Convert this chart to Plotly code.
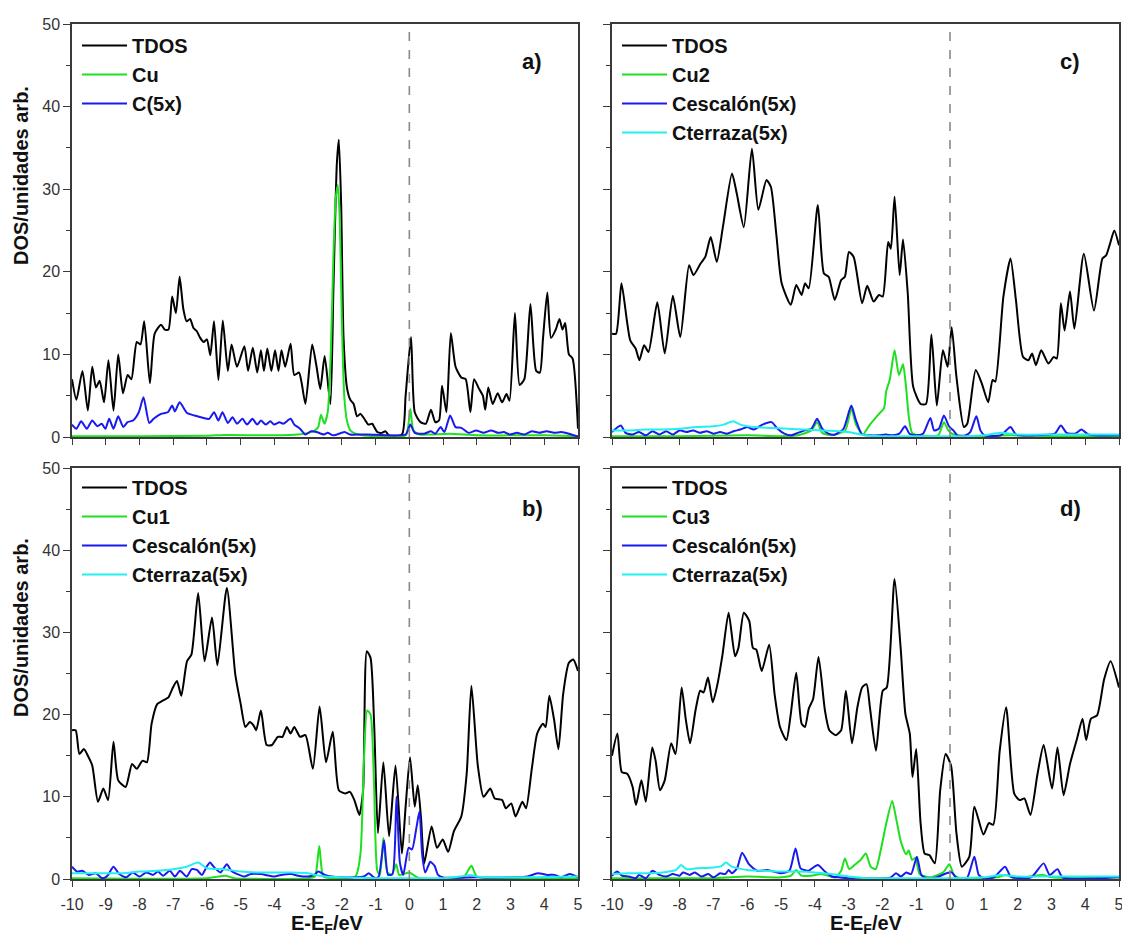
import plotly.graph_objects as go

# ---------------- data (energy E-E_F in eV, DOS in arb. units) ----------------
a_tdos = [(-10.0, 7.0), (-9.87, 4.5), (-9.69, 8.0), (-9.53, 3.2), (-9.40, 8.5), (-9.29, 6.0), (-9.18, 6.8),
          (-9.05, 4.2), (-8.92, 9.3), (-8.77, 3.2), (-8.63, 10.0), (-8.49, 5.3), (-8.35, 7.5), (-8.24, 7.0),
          (-8.08, 11.5), (-7.97, 11.2), (-7.86, 14.0), (-7.69, 6.5), (-7.55, 12.5), (-7.36, 13.6), (-7.25, 13.0),
          (-7.14, 13.0), (-7.03, 17.0), (-6.92, 15.0), (-6.81, 19.4), (-6.7, 15.5), (-6.6, 14.0), (-6.5, 14.3),
          (-6.4, 13.2), (-6.3, 12.8), (-6.2, 12.0), (-6.1, 11.5), (-6.0, 11.8), (-5.9, 9.9), (-5.79, 14.0),
          (-5.66, 6.9), (-5.53, 14.1), (-5.38, 8.0), (-5.27, 11.2), (-5.11, 8.5), (-4.89, 11.0), (-4.78, 8.0),
          (-4.64, 10.8), (-4.51, 7.8), (-4.40, 10.5), (-4.31, 8.0), (-4.21, 10.7), (-4.09, 8.0), (-3.98, 10.5),
          (-3.88, 8.0), (-3.79, 10.5), (-3.68, 8.5), (-3.52, 11.3), (-3.41, 7.5), (-3.27, 7.8), (-3.19, 6.5),
          (-3.08, 4.0), (-2.88, 11.2), (-2.75, 8.5), (-2.64, 5.8), (-2.51, 9.8), (-2.34, 4.0), (-2.25, 18.0),
          (-2.15, 33.0), (-2.09, 36.0), (-2.02, 28.0), (-1.95, 12.0), (-1.85, 6.0), (-1.75, 4.5), (-1.65, 4.0),
          (-1.55, 2.5), (-1.45, 2.8), (-1.35, 2.3), (-1.21, 1.5), (-1.1, 1.6), (-1.04, 1.2), (-0.95, 0.6),
          (-0.82, 0.5), (-0.71, 0.7), (-0.6, 0.2), (-0.22, 0.3), (-0.11, 5.0), (0.05, 12.1), (0.16, 3.0),
          (0.33, 1.8), (0.49, 1.6), (0.64, 3.3), (0.77, 1.8), (0.88, 2.0), (0.97, 6.2), (1.1, 3.0), (1.23, 12.6),
          (1.37, 8.5), (1.54, 7.2), (1.67, 7.0), (1.81, 3.0), (1.92, 7.0), (2.07, 5.8), (2.18, 5.0), (2.25, 3.3),
          (2.34, 6.0), (2.47, 4.0), (2.62, 5.3), (2.75, 4.2), (2.88, 5.2), (2.97, 4.4), (3.13, 15.0), (3.27, 6.3),
          (3.41, 7.0), (3.59, 16.1), (3.76, 8.0), (3.87, 7.8), (3.96, 11.8), (4.09, 17.5), (4.2, 12.0), (4.34, 13.0),
          (4.45, 14.3), (4.54, 13.0), (4.62, 13.8), (4.73, 10.0), (4.84, 9.5), (5.0, 1.0)]
a_cu = [(-10, 0.1), (-8, 0.1), (-6, 0.15), (-5.5, 0.25), (-4, 0.2), (-3.3, 0.3), (-3.0, 0.5), (-2.8, 0.8),
        (-2.7, 1.2), (-2.62, 2.7), (-2.52, 1.6), (-2.42, 3.0), (-2.33, 10.0), (-2.25, 22.0), (-2.18, 29.0),
        (-2.12, 30.5), (-2.06, 26.0), (-2.0, 14.0), (-1.93, 5.0), (-1.85, 2.0), (-1.75, 0.8), (-1.6, 0.4),
        (-1.4, 0.2), (-1.0, 0.1), (-0.5, 0.1), (-0.1, 0.2), (0.03, 3.4), (0.12, 0.8), (0.3, 0.3), (0.6, 0.3),
        (1.2, 0.4), (2.0, 0.2), (3.0, 0.2), (4.0, 0.2), (5.0, 0.1)]
a_c5 = [(-10.0, 1.5), (-9.87, 1.0), (-9.73, 1.9), (-9.56, 1.0), (-9.40, 2.0), (-9.25, 1.3), (-9.12, 1.6),
        (-9.01, 1.0), (-8.90, 2.2), (-8.77, 1.0), (-8.63, 2.5), (-8.48, 1.2), (-8.35, 1.8), (-8.19, 2.0),
        (-8.02, 3.0), (-7.88, 4.8), (-7.71, 1.7), (-7.58, 2.2), (-7.36, 2.8), (-7.16, 3.0), (-7.03, 3.8),
        (-6.95, 3.1), (-6.81, 4.2), (-6.59, 2.9), (-6.37, 2.6), (-6.10, 2.3), (-5.93, 2.2), (-5.79, 3.0),
        (-5.66, 2.0), (-5.54, 3.0), (-5.38, 1.7), (-5.24, 2.4), (-5.11, 1.6), (-4.95, 2.2), (-4.81, 1.5),
        (-4.65, 2.2), (-4.51, 1.5), (-4.40, 2.0), (-4.26, 1.5), (-4.12, 1.9), (-4.01, 1.5), (-3.85, 1.8),
        (-3.74, 1.6), (-3.52, 2.2), (-3.41, 1.5), (-3.24, 1.0), (-3.08, 0.3), (-2.91, 0.7), (-2.75, 0.6),
        (-2.53, 0.3), (-2.42, 0.5), (-2.25, 0.2), (-1.92, 0.6), (-1.76, 0.3), (-1.43, 0.3), (-1.21, 0.3),
        (-0.11, 0.3), (0.03, 1.5), (0.16, 0.5), (0.44, 0.4), (0.64, 0.7), (0.77, 0.4), (0.93, 1.2), (1.04, 0.6),
        (1.21, 2.6), (1.37, 1.2), (1.54, 1.1), (1.76, 0.5), (1.98, 0.8), (2.20, 0.5), (2.42, 0.8), (2.64, 0.5),
        (2.80, 0.6), (2.97, 0.3), (3.19, 0.5), (3.41, 0.3), (3.63, 0.7), (3.85, 0.5), (4.07, 0.7), (4.29, 0.5),
        (4.51, 0.6), (4.73, 0.4), (5.0, 0.05)]

b_tdos = [(-10.0, 18.1), (-9.89, 18.1), (-9.78, 15.2), (-9.65, 15.8), (-9.53, 15.0), (-9.4, 13.8), (-9.23, 9.4),
          (-9.07, 11.0), (-8.93, 9.6), (-8.77, 16.7), (-8.63, 12.0), (-8.41, 11.2), (-8.22, 14.0), (-8.08, 13.4),
          (-7.91, 14.4), (-7.78, 14.2), (-7.64, 18.9), (-7.47, 21.3), (-7.31, 21.7), (-7.14, 22.1), (-7.03, 23.1),
          (-6.89, 24.1), (-6.76, 22.3), (-6.59, 26.5), (-6.46, 27.3), (-6.26, 34.8), (-6.07, 26.5), (-5.85, 31.8),
          (-5.69, 26.0), (-5.41, 35.4), (-5.16, 24.9), (-5.0, 21.3), (-4.86, 18.5), (-4.73, 19.1), (-4.62, 18.7),
          (-4.54, 18.1), (-4.4, 20.5), (-4.23, 16.3), (-4.07, 16.3), (-3.9, 17.3), (-3.76, 17.3), (-3.63, 18.5),
          (-3.52, 17.7), (-3.41, 18.5), (-3.24, 17.3), (-3.08, 17.5), (-2.86, 13.4), (-2.66, 21.0), (-2.47, 14.2),
          (-2.27, 17.9), (-2.09, 10.8), (-1.9, 10.4), (-1.76, 10.6), (-1.63, 9.6), (-1.48, 7.8), (-1.37, 10.8),
          (-1.26, 27.7), (-1.15, 26.9), (-1.04, 18.5), (-0.93, 5.6), (-0.77, 14.2), (-0.6, 5.2), (-0.41, 13.8),
          (-0.22, 3.1), (-0.11, 8.8), (0.02, 14.8), (0.16, 8.8), (0.25, 11.4), (0.35, 7.2), (0.44, 1.9),
          (0.66, 6.4), (0.82, 3.8), (0.99, 4.8), (1.15, 3.3), (1.32, 5.8), (1.54, 7.6), (1.7, 12.8), (1.84, 23.5),
          (2.03, 13.8), (2.2, 10.0), (2.4, 11.0), (2.53, 9.8), (2.75, 9.6), (2.86, 8.6), (3.02, 9.2), (3.15, 7.6),
          (3.35, 9.4), (3.46, 8.6), (3.63, 13.4), (3.79, 17.7), (3.96, 18.9), (4.04, 18.5), (4.15, 22.3),
          (4.29, 19.4), (4.42, 15.8), (4.56, 22.5), (4.73, 26.3), (4.86, 26.7), (5.0, 25.3)]
b_cu1 = [(-10, 0.1), (-6, 0.1), (-5.45, 0.4), (-5.2, 0.1), (-3, 0.1), (-2.8, 0.3), (-2.67, 4.0), (-2.55, 0.3),
         (-2.3, 0.1), (-1.6, 0.3), (-1.45, 3.0), (-1.35, 14.0), (-1.25, 20.5), (-1.15, 20.0), (-1.05, 12.0),
         (-0.95, 1.0), (-0.87, 0.5), (-0.77, 5.0), (-0.65, 0.8), (-0.52, 0.5), (-0.39, 1.8), (-0.3, 0.5),
         (0.0, 0.8), (0.12, 0.5), (0.3, 0.1), (1.6, 0.2), (1.84, 1.6), (2.0, 0.3), (3.0, 0.1), (5.0, 0.1)]
b_cesc = [(-10, 1.5), (-9.85, 0.9), (-9.7, 1.0), (-9.5, 0.5), (-9.3, 0.7), (-9.1, 0.1), (-8.95, 0.4), (-8.77, 1.5),
          (-8.6, 0.6), (-8.4, 0.2), (-8.2, 0.8), (-8.0, 0.3), (-7.8, 0.8), (-7.6, 0.5), (-7.45, 0.9), (-7.3, 0.4),
          (-7.1, 1.0), (-6.95, 0.3), (-6.8, 1.0), (-6.6, 0.3), (-6.45, 1.2), (-6.3, 1.1), (-6.15, 0.5),
          (-6.02, 1.4), (-5.91, 2.0), (-5.78, 1.4), (-5.6, 0.8), (-5.41, 1.8), (-5.28, 1.0), (-5.1, 0.6),
          (-4.9, 0.3), (-4.7, 0.6), (-4.4, 0.6), (-4.0, 0.3), (-3.8, 0.5), (-3.5, 0.6), (-3.3, 0.4), (-3.0, 0.3),
          (-2.82, 0.5), (-2.7, 0.9), (-2.5, 0.5), (-2.3, 0.3), (-2.0, 0.2), (-1.6, 0.2), (-1.35, 0.3), (-1.2, 0.7),
          (-1.05, 0.2), (-0.92, 0.2), (-0.75, 4.7), (-0.63, 0.5), (-0.5, 0.6), (-0.38, 10.0), (-0.28, 2.0),
          (-0.18, 0.5), (-0.02, 3.8), (0.08, 3.6), (0.2, 6.0), (0.3, 8.2), (0.38, 3.0), (0.47, 0.8), (0.55, 1.5),
          (0.62, 2.1), (0.75, 1.6), (0.85, 0.5), (1.0, 0.2), (2.0, 0.2), (3.0, 0.2), (3.5, 0.3), (3.8, 0.7),
          (4.1, 0.5), (4.3, 0.5), (4.5, 0.2), (4.75, 0.6), (5.0, 0.2)]
b_cterr = [(-10, 0.7), (-9.5, 0.7), (-9.0, 0.7), (-8.5, 0.7), (-8.0, 0.9), (-7.5, 1.0), (-7.0, 1.2), (-6.6, 1.5),
           (-6.26, 2.0), (-6.0, 1.3), (-5.5, 1.2), (-5.0, 0.9), (-4.5, 0.8), (-4.0, 0.8), (-3.5, 0.8), (-3.0, 0.7),
           (-2.8, 0.5), (-2.5, 0.3), (-2.0, 0.2), (-1.0, 0.1), (0.0, 0.1), (1.0, 0.1), (1.5, 0.3), (1.8, 0.5),
           (2.0, 0.3), (3.0, 0.2), (5.0, 0.3)]

c_tdos = [(-10, 12.5), (-9.88, 12.5), (-9.72, 18.6), (-9.56, 14.1), (-9.46, 11.7), (-9.3, 10.7), (-9.19, 9.3),
          (-9.05, 11.1), (-8.92, 10.3), (-8.66, 16.3), (-8.44, 10.1), (-8.2, 17.1), (-7.98, 12.1), (-7.72, 20.8),
          (-7.59, 19.6), (-7.38, 21.0), (-7.24, 21.8), (-7.08, 24.2), (-6.9, 21.2), (-6.72, 25.4), (-6.45, 31.9),
          (-6.31, 29.5), (-6.1, 25.4), (-5.86, 34.9), (-5.67, 27.5), (-5.43, 31.1), (-5.3, 30.3), (-5.14, 24.6),
          (-4.98, 18.6), (-4.71, 16.0), (-4.55, 18.4), (-4.39, 17.2), (-4.29, 18.6), (-4.18, 18.0), (-3.91, 28.1),
          (-3.73, 19.8), (-3.59, 19.4), (-3.41, 16.6), (-3.22, 19.0), (-3.11, 19.4), (-2.99, 22.4), (-2.85, 21.8),
          (-2.6, 16.2), (-2.45, 18.3), (-2.26, 16.4), (-2.1, 17.2), (-1.99, 17.0), (-1.83, 23.6), (-1.75, 22.8),
          (-1.64, 29.1), (-1.49, 19.6), (-1.39, 23.9), (-1.25, 17.4), (-1.09, 6.1), (-0.87, 4.0), (-0.71, 4.0),
          (-0.55, 12.4), (-0.39, 3.8), (-0.21, 10.5), (-0.07, 8.5), (0.05, 13.3), (0.19, 7.3), (0.41, 1.2),
          (0.51, 1.6), (0.76, 8.1), (0.94, 6.5), (1.13, 4.2), (1.26, 6.9), (1.34, 6.7), (1.58, 17.0), (1.79, 21.6),
          (1.95, 16.6), (2.16, 9.7), (2.32, 9.3), (2.43, 10.1), (2.54, 8.7), (2.7, 10.5), (2.91, 8.9), (3.07, 9.7),
          (3.16, 9.5), (3.28, 16.2), (3.39, 12.9), (3.55, 17.6), (3.68, 13.1), (3.96, 22.2), (4.26, 15.3),
          (4.51, 21.6), (4.62, 22.0), (4.72, 23.2), (4.86, 25.0), (5.0, 23.2)]
c_cu2 = [(-10, 0.1), (-8, 0.1), (-6, 0.2), (-5, 0.1), (-4.5, 0.2), (-4.1, 0.8), (-3.93, 1.8), (-3.78, 0.5),
         (-3.5, 0.2), (-3.1, 0.8), (-2.92, 3.4), (-2.78, 1.5), (-2.58, 0.3), (-2.37, 1.5), (-2.1, 2.8),
         (-1.95, 3.5), (-1.89, 5.5), (-1.78, 7.0), (-1.64, 10.5), (-1.51, 7.5), (-1.39, 8.8), (-1.3, 6.0),
         (-1.22, 2.5), (-1.12, 0.5), (-0.9, 0.2), (-0.35, 0.2), (-0.18, 1.8), (-0.05, 0.8), (0.1, 0.3),
         (0.4, 0.1), (1.8, 0.2), (3.0, 0.1), (5.0, 0.1)]
c_cesc = [(-10, 0.6), (-9.74, 1.4), (-9.6, 0.5), (-9.4, 0.3), (-9.2, 0.6), (-9.0, 0.2), (-8.8, 0.7), (-8.6, 0.3),
          (-8.4, 0.7), (-8.2, 0.3), (-8.0, 0.8), (-7.8, 0.6), (-7.6, 0.8), (-7.4, 0.5), (-7.2, 0.7), (-7.0, 0.4),
          (-6.8, 0.6), (-6.6, 0.4), (-6.4, 0.7), (-6.2, 0.9), (-6.0, 1.2), (-5.8, 0.9), (-5.55, 1.5), (-5.28, 1.8),
          (-5.1, 1.0), (-4.9, 0.4), (-4.7, 0.2), (-4.5, 0.5), (-4.3, 0.8), (-4.1, 1.0), (-3.93, 2.2), (-3.78, 1.0),
          (-3.6, 0.4), (-3.4, 0.3), (-3.15, 1.0), (-2.92, 3.8), (-2.78, 2.0), (-2.6, 0.3), (-2.4, 0.2), (-2.1, 0.2),
          (-1.9, 0.3), (-1.7, 0.2), (-1.5, 0.4), (-1.33, 1.3), (-1.2, 0.4), (-1.0, 0.2), (-0.8, 0.4), (-0.58, 2.3),
          (-0.47, 0.8), (-0.33, 1.0), (-0.18, 2.6), (-0.03, 1.3), (0.1, 0.8), (0.22, 0.2), (0.45, 0.2), (0.6, 0.6),
          (0.78, 2.5), (0.9, 0.8), (1.02, 0.2), (1.5, 0.2), (1.79, 1.2), (1.95, 0.3), (2.5, 0.2), (3.1, 0.4),
          (3.28, 1.4), (3.45, 0.5), (3.7, 0.4), (3.89, 0.9), (4.1, 0.3), (5.0, 0.2)]
c_cterr = [(-10, 0.8), (-9.5, 0.8), (-9.0, 0.9), (-8.5, 0.9), (-8.0, 1.0), (-7.5, 1.2), (-7.0, 1.3), (-6.7, 1.5),
           (-6.42, 1.9), (-6.2, 1.5), (-5.8, 1.2), (-5.3, 1.1), (-4.8, 1.0), (-4.3, 0.9), (-3.8, 0.8), (-3.3, 0.7),
           (-3.0, 0.6), (-2.5, 0.2), (-2.0, 0.1), (-1.0, 0.1), (0.0, 0.1), (0.5, 0.1), (1.0, 0.2), (1.5, 0.5),
           (2.0, 0.3), (3.0, 0.3), (5.0, 0.3)]

d_tdos = [(-10, 15.0), (-9.84, 17.7), (-9.71, 13.0), (-9.55, 12.8), (-9.39, 11.2), (-9.29, 9.0), (-9.13, 12.0),
          (-9.0, 9.4), (-8.81, 16.0), (-8.71, 14.4), (-8.58, 10.8), (-8.44, 12.0), (-8.25, 16.5), (-8.12, 15.2),
          (-7.94, 23.3), (-7.82, 19.5), (-7.69, 16.5), (-7.53, 20.5), (-7.39, 22.9), (-7.29, 22.7), (-7.16, 24.5),
          (-7.02, 21.5), (-6.89, 23.5), (-6.73, 27.3), (-6.55, 32.4), (-6.36, 27.1), (-6.26, 28.1), (-6.1, 32.4),
          (-5.94, 31.4), (-5.83, 28.1), (-5.73, 27.9), (-5.57, 25.3), (-5.35, 28.5), (-5.19, 22.5), (-5.03, 18.5),
          (-4.84, 16.9), (-4.71, 20.1), (-4.55, 25.1), (-4.39, 18.9), (-4.29, 18.5), (-4.18, 20.7), (-4.05, 21.9),
          (-3.89, 27.0), (-3.7, 20.5), (-3.57, 18.1), (-3.38, 17.5), (-3.22, 18.1), (-3.08, 22.9), (-2.9, 16.5),
          (-2.74, 20.9), (-2.6, 23.3), (-2.47, 23.7), (-2.37, 20.9), (-2.19, 15.6), (-1.99, 22.9), (-1.87, 23.3),
          (-1.64, 36.5), (-1.46, 28.1), (-1.32, 20.1), (-1.19, 17.7), (-1.11, 12.4), (-1.0, 15.8), (-0.87, 6.8),
          (-0.75, 3.1), (-0.61, 2.9), (-0.45, 1.9), (-0.29, 10.8), (-0.13, 15.2), (0.03, 13.8), (0.19, 5.6),
          (0.35, 1.5), (0.57, 2.7), (0.72, 8.8), (0.99, 5.4), (1.15, 6.8), (1.28, 6.6), (1.47, 15.6), (1.66, 20.9),
          (1.9, 10.4), (2.06, 9.6), (2.2, 9.8), (2.38, 7.8), (2.59, 12.8), (2.77, 16.3), (3.02, 11.0), (3.18, 16.0),
          (3.36, 10.2), (3.55, 14.0), (3.76, 17.1), (3.92, 19.5), (4.03, 16.9), (4.17, 19.5), (4.35, 19.9),
          (4.56, 24.3), (4.75, 26.5), (5.0, 23.3)]
d_cu3 = [(-10, 0.1), (-7, 0.1), (-6, 0.3), (-5.0, 0.2), (-4.7, 0.4), (-4.55, 1.1), (-4.4, 0.4), (-4.1, 0.4),
         (-3.8, 0.6), (-3.4, 0.2), (-3.22, 1.0), (-3.11, 2.5), (-2.98, 1.2), (-2.8, 1.8), (-2.65, 2.3),
         (-2.49, 3.1), (-2.35, 1.5), (-2.2, 1.2), (-2.05, 3.5), (-1.9, 6.5), (-1.71, 9.5), (-1.6, 7.5),
         (-1.45, 4.5), (-1.3, 3.0), (-1.22, 3.5), (-1.12, 2.3), (-1.02, 2.6), (-0.9, 0.6), (-0.6, 0.2),
         (-0.2, 0.8), (-0.02, 1.8), (0.12, 0.5), (0.3, 0.1), (1.4, 0.2), (1.66, 0.5), (1.9, 0.1), (2.77, 0.5),
         (3.0, 0.2), (5.0, 0.2)]
d_cesc = [(-10, 0.4), (-9.85, 0.9), (-9.7, 0.4), (-9.5, 0.3), (-9.3, 0.1), (-9.2, 0.5), (-9.0, 0.1), (-8.8, 1.0),
          (-8.6, 0.5), (-8.4, 0.3), (-8.2, 0.6), (-8.0, 0.4), (-7.9, 0.8), (-7.7, 0.5), (-7.55, 0.8), (-7.35, 0.3),
          (-7.15, 0.6), (-7.0, 0.2), (-6.8, 0.7), (-6.65, 0.6), (-6.55, 1.1), (-6.45, 0.7), (-6.3, 1.3),
          (-6.15, 3.2), (-5.95, 1.8), (-5.7, 1.0), (-5.4, 1.1), (-5.0, 0.7), (-4.75, 1.0), (-4.57, 3.7),
          (-4.42, 1.3), (-4.2, 1.0), (-3.91, 1.7), (-3.7, 0.9), (-3.5, 0.3), (-3.3, 0.2), (-3.0, 0.1), (-2.0, 0.1),
          (-1.75, 0.2), (-1.6, 0.7), (-1.45, 0.3), (-1.3, 0.8), (-1.15, 0.6), (-0.98, 2.7), (-0.85, 0.5),
          (-0.7, 0.1), (-0.4, 0.2), (-0.1, 0.7), (0.05, 0.8), (0.2, 0.1), (0.5, 0.1), (0.72, 2.7), (0.85, 0.5),
          (1.0, 0.1), (1.3, 0.2), (1.63, 1.5), (1.8, 0.3), (2.4, 0.2), (2.77, 1.9), (2.95, 0.5), (3.18, 1.2),
          (3.33, 0.2), (5.0, 0.2)]
d_cterr = [(-10, 0.6), (-9.5, 0.7), (-9.0, 0.7), (-8.5, 0.8), (-8.1, 1.1), (-7.96, 1.7), (-7.8, 1.2), (-7.5, 1.3),
           (-7.0, 1.4), (-6.75, 1.6), (-6.63, 2.0), (-6.45, 1.5), (-6.0, 1.1), (-5.5, 1.0), (-5.0, 0.9), (-4.5, 0.9),
           (-4.0, 0.8), (-3.5, 0.6), (-3.0, 0.3), (-2.5, 0.1), (-1.0, 0.1), (0.0, 0.1), (1.0, 0.2), (1.5, 0.5),
           (2.0, 0.3), (3.0, 0.3), (5.0, 0.3)]

x_ticks = [-10, -9, -8, -7, -6, -5, -4, -3, -2, -1, 0, 1, 2, 3, 4, 5]
x_tick_labels = [str(v) for v in x_ticks]
y_ticks = [0, 10, 20, 30, 40, 50]
panel_labels = ["a)", "c)", "b)", "d)"]

# ---------------- styling ----------------
W, H = 1122, 937
FONT = "Liberation Sans, Arial, sans-serif"
COL = {"TDOS": "#000000", "Cu": "#1fe01f", "Cesc": "#1a1aee", "Cterr": "#22f0f0"}


def fx(px):  # page pixel -> paper x
    return px / W


def fy(py):  # page pixel -> paper y
    return 1 - py / H


panels = [
    ("x", "y", "legend", [("TDOS", a_tdos, COL["TDOS"]), ("Cu", a_cu, COL["Cu"]), ("C(5x)", a_c5, COL["Cesc"])]),
    ("x2", "y2", "legend2", [("TDOS", c_tdos, COL["TDOS"]), ("Cu2", c_cu2, COL["Cu"]),
                             ("Cescalón(5x)", c_cesc, COL["Cesc"]), ("Cterraza(5x)", c_cterr, COL["Cterr"])]),
    ("x3", "y3", "legend3", [("TDOS", b_tdos, COL["TDOS"]), ("Cu1", b_cu1, COL["Cu"]),
                             ("Cescalón(5x)", b_cesc, COL["Cesc"]), ("Cterraza(5x)", b_cterr, COL["Cterr"])]),
    ("x4", "y4", "legend4", [("TDOS", d_tdos, COL["TDOS"]), ("Cu3", d_cu3, COL["Cu"]),
                             ("Cescalón(5x)", d_cesc, COL["Cesc"]), ("Cterraza(5x)", d_cterr, COL["Cterr"])]),
]

fig = go.Figure()
for xa, ya, lg, traces in panels:
    for name, pts, col in traces:
        xs = [p[0] for p in pts]
        ys = [p[1] for p in pts]
        fig.add_trace(go.Scatter(
            x=xs, y=ys, mode="lines", name=name, xaxis=xa, yaxis=ya, legend=lg,
            legendgroup=lg + name, line=dict(color=col, width=2, shape="spline", smoothing=0.6),
            hoverinfo="x+y+name"))

xl = [fx(72), fx(578)]
xr = [fx(612), fx(1119)]
yt = [fy(437), fy(24)]
yb = [fy(879), fy(468)]

axis_common = dict(showline=True, linecolor="#3a3a3a", linewidth=1.5, mirror=True, ticks="outside",
                   tickcolor="#3a3a3a", tickwidth=1.3, showgrid=False, zeroline=False,
                   tickfont=dict(family=FONT, size=16, color="#333333"), automargin=False,
                   ticklabeloverflow="allow")


def xaxis(dom, anchor, labels):
    return dict(axis_common, domain=dom, anchor=anchor, range=[-10, 5], tickmode="array",
                tickvals=x_ticks, ticktext=x_tick_labels, ticklen=6, showticklabels=labels,
                ticklabelstandoff=4)


def yaxis(dom, anchor, labels):
    return dict(axis_common, domain=dom, anchor=anchor, range=[0, 50], tickmode="array",
                tickvals=y_ticks, ticklen=7, showticklabels=labels,
                minor=dict(dtick=5, tick0=0, ticks="outside", ticklen=4, tickcolor="#3a3a3a", tickwidth=1.2))


leg_font = dict(family=FONT, size=20, color="#111111", weight="bold")


def legend(x, y):
    return dict(x=x, y=y, xanchor="left", yanchor="top", bgcolor="rgba(0,0,0,0)", borderwidth=0,
                font=leg_font, tracegroupgap=2, itemwidth=45, traceorder="normal")


fig.update_layout(
    width=W, height=H, margin=dict(l=0, r=0, t=0, b=0),
    paper_bgcolor="white", plot_bgcolor="white", showlegend=True,
    xaxis=xaxis(xl, "y", False), yaxis=yaxis(yt, "x", True),
    xaxis2=xaxis(xr, "y2", False), yaxis2=yaxis(yt, "x2", False),
    xaxis3=xaxis(xl, "y3", True), yaxis3=yaxis(yb, "x3", True),
    xaxis4=xaxis(xr, "y4", True), yaxis4=yaxis(yb, "x4", False),
    legend=legend(fx(77), fy(26)),
    legend2=legend(fx(617), fy(26)),
    legend3=legend(fx(77), fy(468)),
    legend4=legend(fx(617), fy(468)),
)

# Fermi level dashed lines
for xa, ya, lg, traces in panels:
    fig.add_shape(type="line", xref=xa, yref=ya + " domain", x0=0, x1=0, y0=0, y1=1,
                  line=dict(color="#8a8a8a", width=1.6, dash="dash"))

# panel labels
lab_pos = {"a)": (532, 62), "c)": (1070, 62), "b)": (532, 508), "d)": (1070, 508)}
for lab in panel_labels:
    px, py = lab_pos[lab]
    fig.add_annotation(text=lab, x=fx(px), y=fy(py), xref="paper", yref="paper", showarrow=False,
                       xanchor="center", yanchor="middle",
                       font=dict(family=FONT, size=22, color="#111111", weight="bold"))

# axis titles
for py in (176, 628):
    fig.add_annotation(text="DOS/unidades arb.", x=fx(21), y=fy(py), xref="paper", yref="paper",
                       textangle=-90, showarrow=False, xanchor="center", yanchor="middle",
                       font=dict(family=FONT, size=20, color="#111111", weight="bold"))
for px in (327, 866):
    fig.add_annotation(text="E-E<sub>F</sub>/eV", x=fx(px), y=fy(924), xref="paper", yref="paper",
                       showarrow=False, xanchor="center", yanchor="middle",
                       font=dict(family=FONT, size=20, color="#111111", weight="bold"))

# the page's default body margin would shift and crop the 1122x937 figure; remove it
fig.write_html("out.html", config={"displayModeBar": False},
               post_script="document.body.style.margin='0';document.body.style.overflow='hidden';")
